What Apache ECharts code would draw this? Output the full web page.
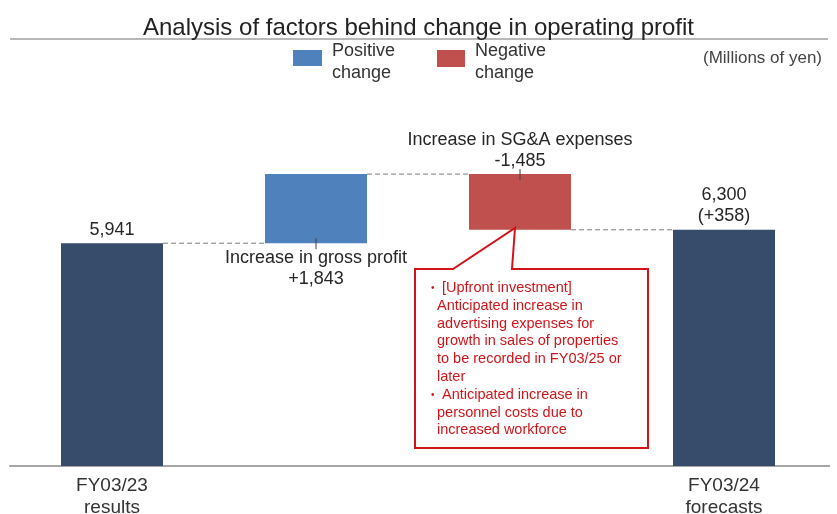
<!DOCTYPE html>
<html><head><meta charset="utf-8">
<script src="https://cdn.jsdelivr.net/npm/echarts@6/dist/echarts.min.js"></script>
<style>html,body{margin:0;padding:0;background:#fff}#c{width:837px;height:514px}</style>
</head><body><div id="c"></div>
<script>
var categories = ['FY03/23\nresults', 'gross profit', 'SG&A', 'FY03/24\nforecasts'];
var values = [5941, 1843, -1485, 6300];
var kinds = ['total', 'delta', 'delta', 'total'];
var barLabels = ['5,941', 'Increase in gross profit\n+1,843', 'Increase in SG&A expenses\n-1,485', '6,300\n(+358)'];
var calloutLines = [
  '•[Upfront investment]',
  'Anticipated increase in',
  'advertising expenses for',
  'growth in sales of properties',
  'to be recorded in FY03/25 or',
  'later',
  '•Anticipated increase in',
  'personnel costs due to',
  'increased workforce'
];

var FONT = 'Liberation Sans, Arial, sans-serif';
var C_TOTAL = '#374B6B', C_POS = '#4F81BD', C_NEG = '#C0504D', C_CALL = '#D0141A';

// running totals
var base = [], height = [], levels = [], startLevels = [];
var run = 0;
for (var i = 0; i < values.length; i++) {
  if (kinds[i] === 'total') { startLevels.push(null); base.push(0); height.push(values[i]); run = values[i]; }
  else {
    startLevels.push(run);
    var next = run + values[i];
    base.push(Math.min(run, next)); height.push(Math.abs(values[i])); run = next;
  }
  levels.push(run);
}

var deltaData = height.map(function (h, i) {
  var col = kinds[i] === 'total' ? C_TOTAL : (values[i] >= 0 ? C_POS : C_NEG);
  var pos = (kinds[i] === 'delta' && values[i] >= 0) ? 'bottom' : 'top';
  return {
    value: h,
    itemStyle: { color: col },
    label: { show: true, position: pos, distance: pos === 'bottom' ? 4 : 3, formatter: barLabels[i] }
  };
});

var connData = [];
for (var i = 0; i < values.length - 1; i++) connData.push([i, levels[i]]);
var tickData = [];
for (var i = 0; i < values.length; i++) if (startLevels[i] !== null) tickData.push([i, startLevels[i]]);

// callout text elements
var calloutTexts = calloutLines.map(function (ln, k) {
  var bullet = ln.charAt(0) === '•';
  var y = 288 + k * 17.8;
  var els = [{
    type: 'text', z: 11, x: bullet ? 442 : 437, y: y,
    style: { text: bullet ? ln.slice(1) : ln, fill: C_CALL, font: '14.5px ' + FONT, verticalAlign: 'middle' }
  }];
  if (bullet) els.push({ type: 'text', z: 11, x: 431, y: y, style: { text: '•', fill: C_CALL, font: '10px ' + FONT, verticalAlign: 'middle' } });
  return els;
}).reduce(function (a, b) { return a.concat(b); }, []);

var chart = echarts.init(document.getElementById('c'), null, { renderer: 'canvas' });
chart.setOption({
  animation: false,
  textStyle: { fontFamily: FONT },
  title: {
    text: 'Analysis of factors behind change in operating profit',
    left: 'center', top: 11,
    textStyle: { fontSize: 24, fontWeight: 'normal', color: '#222', fontFamily: FONT }
  },
  grid: { left: 10, right: 11, top: 91, bottom: 48, containLabel: false, outerBoundsMode: 'none' },
  xAxis: {
    type: 'category', data: categories,
    axisLine: { lineStyle: { color: '#A6A6A6', width: 2 } },
    axisTick: { show: false },
    axisLabel: {
      color: '#333', fontSize: 19, lineHeight: 22, margin: 9,
      formatter: function (v, idx) { return kinds[idx] === 'total' ? v : ''; }
    }
  },
  yAxis: { type: 'value', min: 0, max: 10000, show: false, splitLine: { show: false } },
  series: [
    { type: 'bar', stack: 'w', data: base, itemStyle: { color: 'transparent' }, barWidth: '50%', silent: true },
    {
      type: 'bar', stack: 'w', data: deltaData, barWidth: '50%',
      label: { color: '#262626', fontSize: 18, lineHeight: 21 }
    },
    {
      type: 'custom', data: connData, z: 5,
      renderItem: function (params, api) {
        var i = api.value(0), lv = api.value(1);
        var bw = api.size([1, 0])[0] * 0.25;
        var p1 = api.coord([i, lv]), p2 = api.coord([i + 1, lv]);
        return {
          type: 'line',
          shape: { x1: p1[0] + bw, y1: p1[1], x2: p2[0] - bw, y2: p2[1] },
          style: { stroke: '#7F7F7F', lineWidth: 1, lineDash: [5, 3] }
        };
      }
    },
    {
      type: 'custom', data: tickData, z: 6,
      renderItem: function (params, api) {
        var p = api.coord([api.value(0), api.value(1)]);
        return {
          type: 'line',
          shape: { x1: p[0], y1: p[1] - 5, x2: p[0], y2: p[1] + 6 },
          style: { stroke: '#404040', lineWidth: 1 }
        };
      }
    }
  ],
  graphic: [
    { type: 'line', shape: { x1: 10, y1: 39, x2: 828, y2: 39 }, style: { stroke: '#A0A0A0', lineWidth: 1.5 } },
    { type: 'line', shape: { x1: 825, y1: 466, x2: 830, y2: 466 }, style: { stroke: '#A6A6A6', lineWidth: 2 } },
    { type: 'rect', shape: { x: 293, y: 50, width: 29, height: 16 }, style: { fill: C_POS } },
    { type: 'text', x: 332, y: 40, style: { text: 'Positive\nchange', fill: '#333', font: '18px ' + FONT, lineHeight: 22 } },
    { type: 'rect', shape: { x: 437, y: 50, width: 28, height: 17 }, style: { fill: C_NEG } },
    { type: 'text', x: 475, y: 40, style: { text: 'Negative\nchange', fill: '#333', font: '18px ' + FONT, lineHeight: 22 } },
    { type: 'text', x: 703, y: 58, style: { text: '(Millions of yen)', fill: '#444', font: '17px ' + FONT, verticalAlign: 'middle' } },
    {
      type: 'polygon', z: 10,
      shape: { points: [[415, 269], [453, 269], [515, 228], [512, 269], [648, 269], [648, 448], [415, 448]] },
      style: { fill: '#fff', stroke: C_CALL, lineWidth: 2 }
    }
  ].concat(calloutTexts)
});
</script></body></html>
